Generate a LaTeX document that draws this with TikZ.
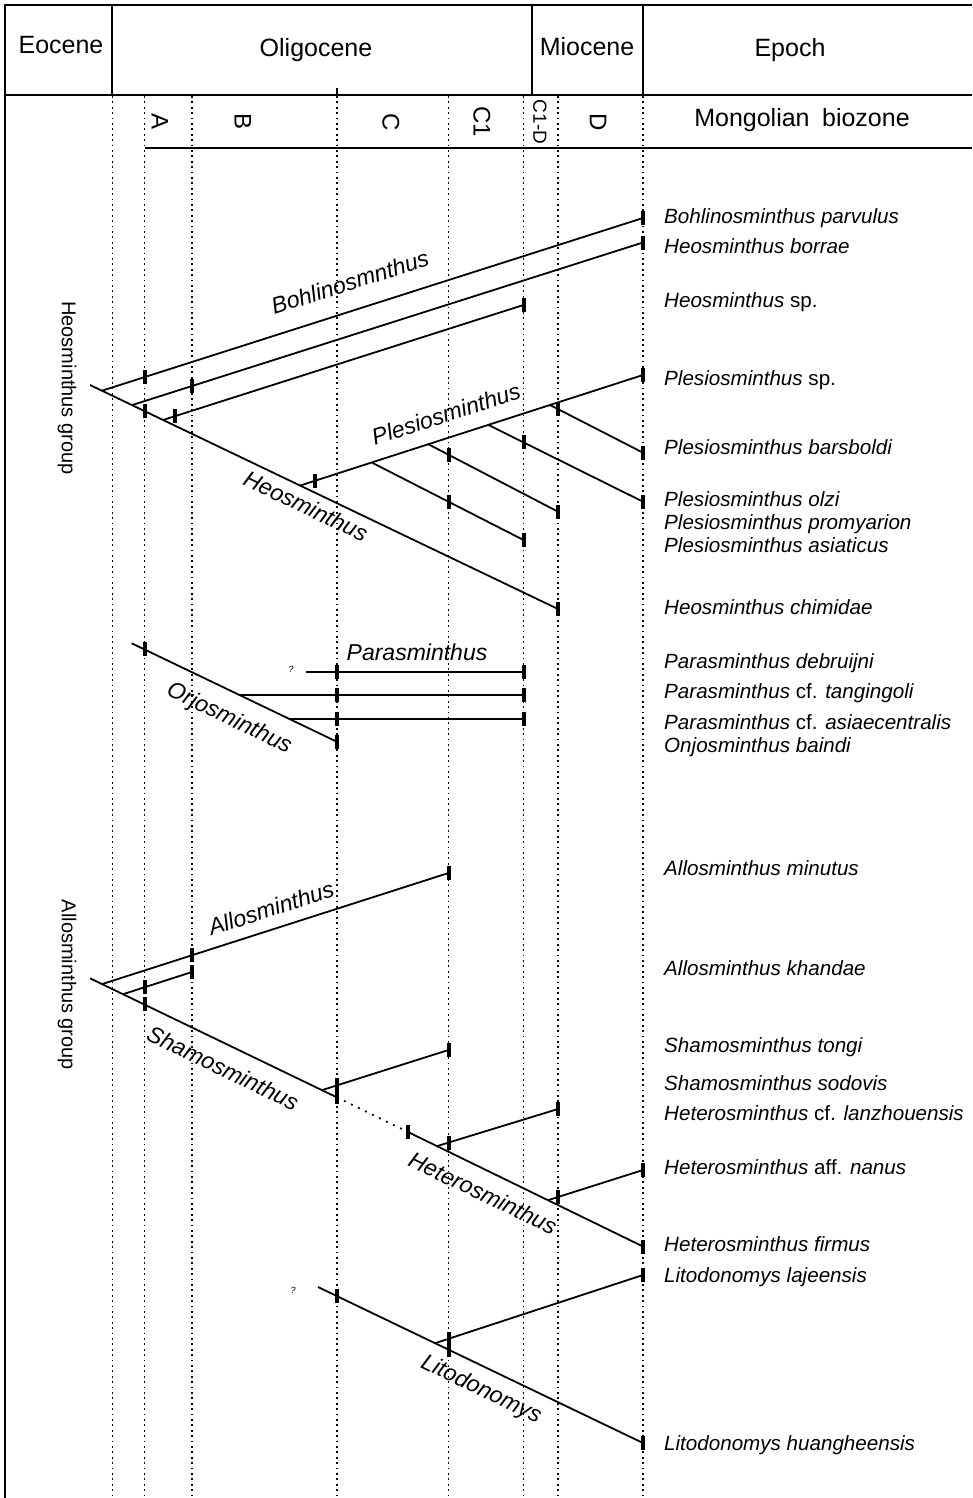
\documentclass[tikz,border=0pt]{standalone}
\usepackage{fontspec}
\setmainfont{Liberation Sans}
\newcommand\tk[1]{\fill (#1) ++(-2,-7) rectangle ++(4,14);}
\begin{document}
\begin{tikzpicture}[x=1pt,y=-1pt,
  branch/.style={line width=1.8pt},
  dotv/.style={line width=1.8pt, dash pattern=on 1.8pt off 3.6pt},
  frame/.style={line width=1.7pt},
  outer/.style={line width=2.6pt},
  spec/.style={anchor=base west, font=\fontsize{20.6}{24}\selectfont\itshape, inner sep=0pt},
  clade/.style={font=\fontsize{23}{27}\selectfont\itshape, inner sep=0pt},
  hdr/.style={font=\fontsize{25}{30}\selectfont, inner sep=0pt},
  zone/.style={font=\fontsize{24}{28}\selectfont, inner sep=0pt, rotate=-90},
  grp/.style={font=\fontsize{20}{24}\selectfont, inner sep=0pt, rotate=-90},
  qm/.style={font=\fontsize{9}{10}\selectfont\itshape, inner sep=0pt},
]
\useasboundingbox (0,0) rectangle (972,1498);
% ---------- frame ----------
\draw[outer] (4,5) -- (972,5);
\draw[outer] (5,4) -- (5,1498);
\draw[frame] (5,95) -- (972,95);
\draw[frame] (144.5,148) -- (972,148);
\draw[frame] (112,5) -- (112,95);
\draw[frame] (532,5) -- (532,95);
\draw[frame] (643,5) -- (643,95);
\draw[frame] (337,88) -- (337,95);
\foreach \x in {112.5,144.5,192,337,448.5,523.5,558,643}
  \draw[dotv] (\x,96) -- (\x,1498);
% ---------- header text ----------
\node[hdr] (eoc) at (61,45) {Eocene};
\node[hdr] (oli) at (316,50) {Oligocene};
\node[hdr] (mio) at (587,47) {Miocene};
\node[hdr] (epo) at (790,50) {Epoch};
\node[hdr] (mbz) at (802,120) {Mongolian\enspace biozone};
\node[zone] (zA) at (160,122) {A};
\node[zone] (zB) at (243,122) {B};
\node[zone] (zC) at (391,122) {C};
\node[zone] (zC1) at (482,122) {C1};
\node[zone,font=\fontsize{19}{22}\selectfont] (zC1D) at (540,122) {C1-D};
\node[zone] (zD) at (598,122) {D};
% ---------- group labels ----------
\node[grp] (gH) at (67,388) {Heosminthus group};
\node[grp] (gA) at (67,985) {Allosminthus group};
% ---------- Heosminthus group tree ----------
\coordinate (hr) at (90,385);   \coordinate (he) at (558,609);
\coordinate (b1s) at (102,390.7); \coordinate (b1e) at (643,218);
\coordinate (b2s) at (132,405.1); \coordinate (b2e) at (643,242.5);
\coordinate (b3s) at (163,420);   \coordinate (b3e) at (523.5,305);
\coordinate (pls) at (300,485.6); \coordinate (ple) at (643,375);
\coordinate (as) at (371.7,462.5); \coordinate (ae) at (523.5,540);
\coordinate (bs) at (428.3,444.2); \coordinate (be) at (558,511.7);
\coordinate (cs) at (488.3,424.9); \coordinate (ce) at (643,501.7);
\coordinate (ds) at (550,405);     \coordinate (de) at (643,452.7);
\draw[branch] (hr) -- (he);
\draw[branch] (b1s) -- (b1e);
\draw[branch] (b2s) -- (b2e);
\draw[branch] (b3s) -- (b3e);
\draw[branch] (pls) -- (ple);
\draw[branch] (as) -- (ae);
\draw[branch] (bs) -- (be);
\draw[branch] (cs) -- (ce);
\draw[branch] (ds) -- (de);
\tk{145,377} \tk{192,386} \tk{175,416.2} \tk{144.5,411.3} \tk{315,480.8}
\tk{448.5,501.7} \tk{448.5,454.7} \tk{523.5,442.4} \tk{558,409.1}
\tk{b1e} \tk{b2e} \tk{b3e} \tk{ple} \tk{ae} \tk{be} \tk{ce} \tk{de} \tk{he}
\node[clade,rotate=17.6] (lBo) at (350,282) {Bohlinosmnthus};
\node[clade,rotate=18] (lPl) at (446,414) {Plesiosminthus};
\node[clade,rotate=-25.7] (lHe) at (306,506) {Heosminthus};
% ---------- Parasminthus / Orjosminthus ----------
\coordinate (os) at (131.7,643.3); \coordinate (oe) at (337,741.8);
\coordinate (p1s) at (306,671.7);  \coordinate (p1e) at (523.5,671.7);
\coordinate (p2s) at (239.4,695);  \coordinate (p2e) at (523.5,695);
\coordinate (p3s) at (290,719.3);  \coordinate (p3e) at (523.5,719.3);
\draw[branch] (os) -- (oe);
\draw[branch] (p1s) -- (p1e);
\draw[branch] (p2s) -- (p2e);
\draw[branch] (p3s) -- (p3e);
\tk{144.5,649.4} \tk{oe}
\tk{337,671.7} \tk{p1e} \tk{337,695} \tk{p2e} \tk{337,719.3} \tk{p3e}
\node[qm] (q1) at (291,669) {?};
\node[clade] (lPa) at (417,652) {Parasminthus};
\node[clade,rotate=-25.7] (lOr) at (229,719) {Orjosminthus};
% ---------- Allosminthus group tree ----------
\coordinate (ar) at (90,978.3);   \coordinate (sm) at (337,1097.4);
\coordinate (hs) at (408,1132);   \coordinate (hf) at (643,1246.5);
\coordinate (als) at (102,984.1); \coordinate (ale) at (448.5,873);
\coordinate (aks) at (123,994.2); \coordinate (ake) at (192,972);
\coordinate (sts) at (322,1090.1); \coordinate (ste) at (448.5,1050);
\coordinate (hls) at (437,1146.1); \coordinate (hle) at (558,1109);
\coordinate (hns) at (548,1200.2); \coordinate (hne) at (643,1170);
\coordinate (ls) at (318,1287);    \coordinate (le) at (643,1443);
\coordinate (ljs) at (435,1343.2); \coordinate (lje) at (643,1275);
\draw[branch] (ar) -- (sm);
\draw[branch, dash pattern=on 1.8pt off 6pt] (sm) -- (hs);
\draw[branch] (hs) -- (hf);
\draw[branch] (als) -- (ale);
\draw[branch] (aks) -- (ake);
\draw[branch] (sts) -- (ste);
\draw[branch] (hls) -- (hle);
\draw[branch] (hns) -- (hne);
\draw[branch] (ls) -- (le);
\draw[branch] (ljs) -- (lje);
\tk{144.5,1004.1} \tk{sm} \tk{hs} \tk{hf}
\tk{192,955.2} \tk{ale} \tk{144.5,987.3} \tk{ake}
\tk{337,1085.3} \tk{ste} \tk{448.5,1142.6} \tk{hle} \tk{558,1197} \tk{hne}
\tk{337,1296.1} \tk{448.5,1349.6} \tk{le} \tk{448.5,1338.8} \tk{lje}
\node[qm] (q2) at (293,1290) {?};
\node[clade,rotate=18] (lAl) at (271,908) {Allosminthus};
\node[clade,rotate=-25.7] (lSh) at (223,1068) {Shamosminthus};
\node[clade,rotate=-25.7] (lHt) at (483,1193) {Heterosminthus};
\node[clade,rotate=-25.7] (lLi) at (481,1390) {Litodonomys};
% ---------- species ----------
\node[spec] (s1) at (664,223.5) {Bohlinosminthus parvulus};
\node[spec] (s2) at (664,253.5) {Heosminthus borrae};
\node[spec] (s3) at (664,307.5) {Heosminthus \textup{sp.}};
\node[spec] (s4) at (664,385.5) {Plesiosminthus \textup{sp.}};
\node[spec] (s5) at (664,454.5) {Plesiosminthus barsboldi};
\node[spec] (s6) at (664,506.5) {Plesiosminthus olzi};
\node[spec] (s7) at (664,529.5) {Plesiosminthus promyarion};
\node[spec] (s8) at (664,552.5) {Plesiosminthus asiaticus};
\node[spec] (s9) at (664,614.5) {Heosminthus chimidae};
\node[spec] (s10) at (664,668.5) {Parasminthus debruijni};
\node[spec] (s11) at (664,698.5) {Parasminthus \textup{cf.} tangingoli};
\node[spec] (s12) at (664,729.5) {Parasminthus \textup{cf.} asiaecentralis};
\node[spec] (s13) at (664,752.5) {Onjosminthus baindi};
\node[spec] (s14) at (664,875.5) {Allosminthus minutus};
\node[spec] (s15) at (664,975.5) {Allosminthus khandae};
\node[spec] (s16) at (664,1052.5) {Shamosminthus tongi};
\node[spec] (s17) at (664,1090.5) {Shamosminthus sodovis};
\node[spec] (s18) at (664,1120.5) {Heterosminthus \textup{cf.} lanzhouensis};
\node[spec] (s19) at (664,1174.5) {Heterosminthus \textup{aff.} nanus};
\node[spec] (s20) at (664,1251.5) {Heterosminthus firmus};
\node[spec] (s21) at (664,1282.5) {Litodonomys lajeensis};
\node[spec] (s22) at (664,1450.5) {Litodonomys huangheensis};
\end{tikzpicture}
\end{document}
